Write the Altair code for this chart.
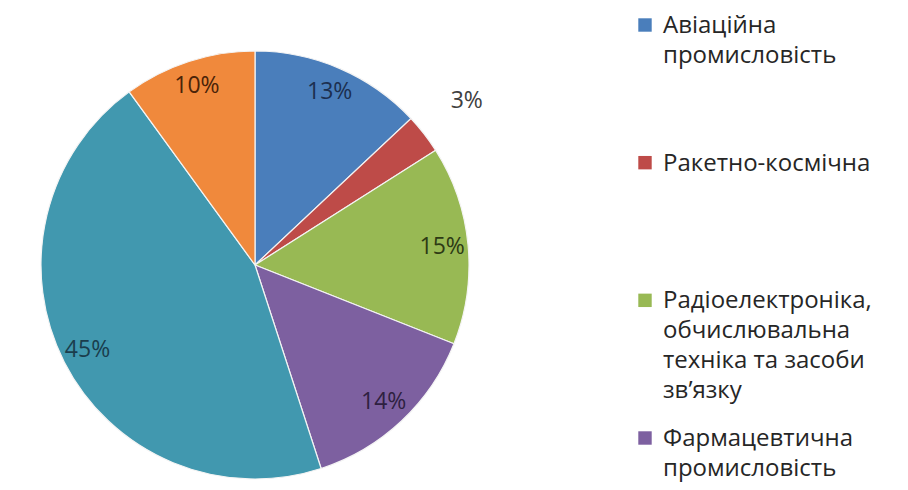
import math
import altair as alt
import pandas as pd

# ---- data ----
categories = [
    "Авіаційна промисловість",
    "Ракетно-космічна",
    "Радіоелектроніка, обчислювальна техніка та засоби зв’язку",
    "Фармацевтична промисловість",
    "Інші галузі",
    "Хімічна промисловість",
]
shares = [13, 3, 15, 14, 45, 10]
legend_labels = [
    "Авіаційна\nпромисловість",
    "Ракетно-космічна",
    "Радіоелектроніка,\nобчислювальна\nтехніка та засоби\nзв’язку",
    "Фармацевтична\nпромисловість",
]
slice_colors = ["#4A7EBB", "#BE4B48", "#98B954", "#7D60A0", "#4198AF", "#F0893C"]
label_colors = ["#1C2F4F", "#404040", "#2D3A14", "#2E2040", "#1A3D4D", "#4A2308"]

df = pd.DataFrame({
    "category": categories,
    "share": shares,
    "order": list(range(len(categories))),
    "lc": label_colors,
})
leg_df = pd.DataFrame({
    "category": categories[: len(legend_labels)],
    "label": legend_labels,
    "idx": list(range(len(legend_labels))),
})

color_scale = alt.Scale(domain=categories, range=slice_colors)
theta_scale = alt.Scale(domain=[0, 100], range=[0, 2 * math.pi], zero=False, nice=False)

CX, CY, R = 247, 257, 214

base = (
    alt.Chart(df)
    .transform_window(cum="sum(share)", sort=[alt.SortField("order")], frame=[None, 0])
    .transform_calculate(
        start="datum.cum - datum.share",
        mid="datum.cum - datum.share / 2",
        pct="datum.share + '%'",
    )
)

arcs = base.mark_arc(outerRadius=R, stroke="#f4f4f4", strokeWidth=1.2).encode(
    theta=alt.Theta("start:Q", scale=theta_scale),
    theta2="cum:Q",
    color=alt.Color("category:N", scale=color_scale, legend=None),
    x=alt.value(CX),
    y=alt.value(CY),
)

labels_in = base.transform_filter("datum.share >= 5").mark_text(
    radius=188, fontSize=23, font="Open Sans", align="center", baseline="middle"
).encode(
    theta=alt.Theta("mid:Q", scale=theta_scale),
    text="pct:N",
    fill=alt.Fill("lc:N", scale=None),
    x=alt.value(CX),
    y=alt.value(CY),
)

labels_out = base.transform_filter("datum.share < 5").mark_text(
    radius=268, fontSize=23, font="Open Sans", align="center", baseline="middle"
).encode(
    theta=alt.Theta("mid:Q", scale=theta_scale),
    text="pct:N",
    fill=alt.Fill("lc:N", scale=None),
    x=alt.value(CX),
    y=alt.value(CY),
)

leg_y = alt.Y("idx:Q", scale=alt.Scale(domain=[0, 3], range=[25, 438], nice=False, zero=False), axis=None)

squares = alt.Chart(leg_df).mark_square(size=180, opacity=1, yOffset=-8).encode(
    x=alt.value(637),
    y=leg_y,
    color=alt.Color("category:N", scale=color_scale, legend=None),
)

texts = alt.Chart(leg_df).mark_text(
    align="left", baseline="alphabetic", lineBreak="\n", lineHeight=30,
    fontSize=24, font="Open Sans", color="#262626",
).encode(
    x=alt.value(655),
    y=leg_y,
    text="label:N",
)

chart = (
    alt.layer(arcs, labels_in, labels_out, squares, texts)
    .properties(width=892, height=474, padding=0, autosize="none", background="#ffffff")
    .configure_view(stroke=None)
)

chart.save("out.html", embed_options={"renderer": "svg", "actions": False})
